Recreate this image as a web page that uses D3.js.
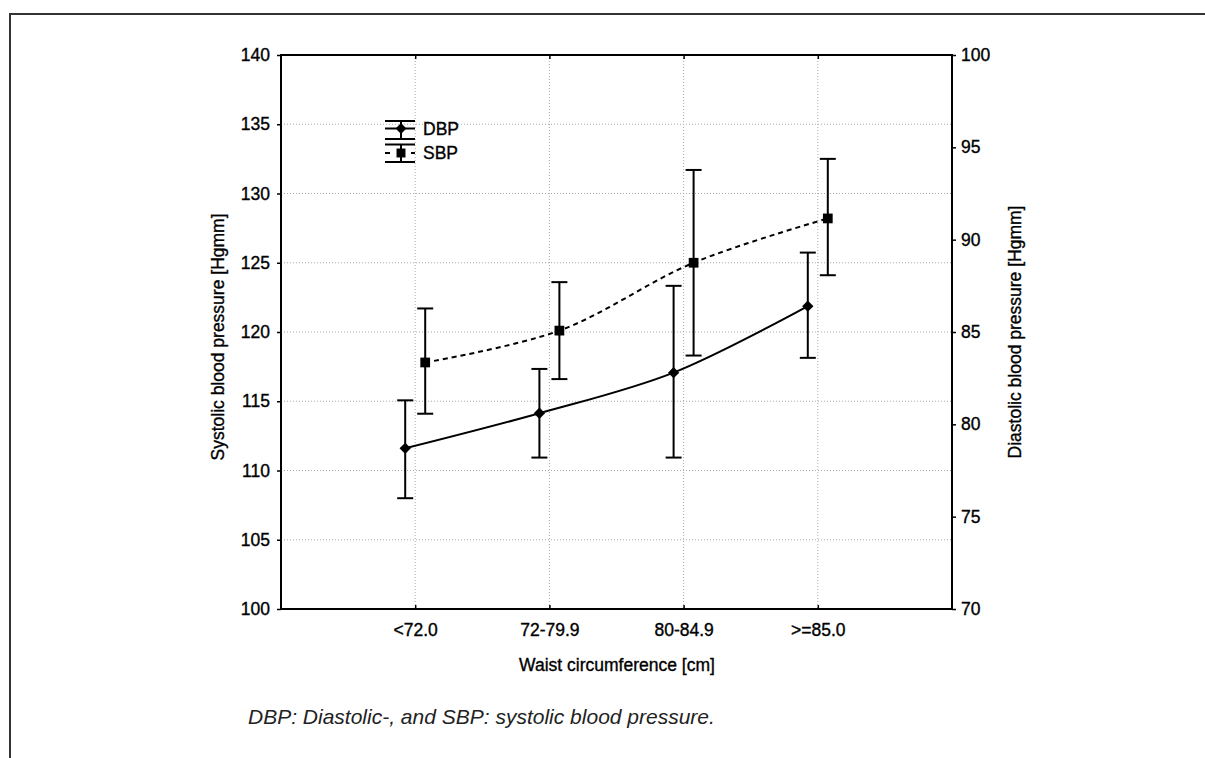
<!DOCTYPE html>
<html><head><meta charset="utf-8">
<script src="https://cdn.jsdelivr.net/npm/d3@7"></script>
<style>body{margin:0;background:#fff}svg{display:block}</style>
</head><body><svg id="c" width="1205" height="758"></svg>
<script>
// ---- data ----
const categories = ["<72.0", "72-79.9", "80-84.9", ">=85.0"];
const sbpMean = [117.8, 120.1, 125.0, 128.2];
const sbpLow  = [114.1, 116.6, 118.3, 124.1];
const sbpHigh = [121.7, 123.6, 131.7, 132.5];
const dbpMean = [78.7, 80.6, 82.8, 86.4];
const dbpLow  = [76.0, 78.2, 78.2, 83.6];
const dbpHigh = [81.3, 83.0, 87.5, 89.3];
const leftTicks = [100, 105, 110, 115, 120, 125, 130, 135, 140];
const rightTicks = [70, 75, 80, 85, 90, 95, 100];
const seriesNames = ["DBP", "SBP"];
const xTitle = "Waist circumference [cm]";
const yLeftTitle = "Systolic blood pressure [Hgmm]";
const yRightTitle = "Diastolic blood pressure [Hgmm]";
const caption = "DBP: Diastolic-, and SBP: systolic blood pressure.";

// ---- layout ----
const svg = d3.select("#c");
const L = 281, R = 952, T = 55, B = 609;
const FONT = "'Liberation Sans', Arial, sans-serif";
const ink = "#000";

const x = d3.scalePoint().domain(categories).range([L, R]).padding(1);
const yL = d3.scaleLinear().domain([100, 140]).range([B, T]);
const yR = d3.scaleLinear().domain([70, 100]).range([B, T]);
const OFF = 10;

// outer frame
svg.append("rect").attr("x", 10).attr("y", 14).attr("width", 1210).attr("height", 800)
  .attr("fill", "none").attr("stroke", "#333").attr("stroke-width", 2);

// grid
const grid = svg.append("g").attr("stroke", "#aaa").attr("stroke-width", 1).attr("stroke-dasharray", "1,2");
grid.selectAll("line.h").data(leftTicks.slice(1, -1)).join("line")
  .attr("x1", L).attr("x2", R).attr("y1", d => yL(d)).attr("y2", d => yL(d));
grid.selectAll("line.v").data(categories).join("line")
  .attr("x1", d => x(d)).attr("x2", d => x(d)).attr("y1", T).attr("y2", B);

function textStyle(sel, size) {
  sel.attr("font-family", FONT).attr("font-size", size).attr("fill", ink)
    .attr("stroke", ink).attr("stroke-width", 0.35);
}

// axes
function styleAxis(g, size) {
  g.select(".domain").remove();
  g.selectAll(".tick line").attr("stroke", ink).attr("stroke-width", 1.5);
  g.selectAll(".tick text").call(textStyle, size);
}
svg.append("g").attr("transform", `translate(${L},0)`)
  .call(d3.axisLeft(yL).tickValues(leftTicks).tickSize(4).tickPadding(7))
  .call(g => styleAxis(g, "17.5px"));
svg.append("g").attr("transform", `translate(${R},0)`)
  .call(d3.axisRight(yR).tickValues(rightTicks).tickSize(4).tickPadding(5))
  .call(g => styleAxis(g, "17.5px"));
svg.append("g").attr("transform", `translate(0,${B})`)
  .call(d3.axisBottom(x).tickSize(-4).tickPadding(15))
  .call(g => styleAxis(g, "17.5px"));
svg.append("g").attr("transform", `translate(0,${T})`)
  .call(d3.axisTop(x).tickSize(-4).tickFormat(""))
  .call(g => styleAxis(g, "17.5px"));

// plot box
svg.append("rect").attr("x", L).attr("y", T).attr("width", R - L).attr("height", B - T)
  .attr("fill", "none").attr("stroke", ink).attr("stroke-width", 2);

// series
const dbp = categories.map((c, i) => ({c, m: dbpMean[i], lo: dbpLow[i], hi: dbpHigh[i]}));
const sbp = categories.map((c, i) => ({c, m: sbpMean[i], lo: sbpLow[i], hi: sbpHigh[i]}));

function drawSeries(data, yS, off, dash, symSize, rot) {
  const g = svg.append("g");
  const line = d3.line().x(d => x(d.c) + off).y(d => yS(d.m)).curve(d3.curveCatmullRom.alpha(0.5));
  g.append("path").datum(data).attr("d", line).attr("fill", "none")
    .attr("stroke", ink).attr("stroke-width", 2).attr("stroke-dasharray", dash);
  const eb = g.selectAll("g.eb").data(data).join("g").attr("stroke", ink).attr("stroke-width", 2);
  eb.append("line").attr("x1", d => x(d.c) + off).attr("x2", d => x(d.c) + off)
    .attr("y1", d => yS(d.hi)).attr("y2", d => yS(d.lo));
  eb.append("line").attr("x1", d => x(d.c) + off - 8).attr("x2", d => x(d.c) + off + 8)
    .attr("y1", d => yS(d.hi)).attr("y2", d => yS(d.hi));
  eb.append("line").attr("x1", d => x(d.c) + off - 8).attr("x2", d => x(d.c) + off + 8)
    .attr("y1", d => yS(d.lo)).attr("y2", d => yS(d.lo));
  g.selectAll("path.sym").data(data).join("path").attr("class", "sym")
    .attr("d", d3.symbol().type(d3.symbolSquare).size(symSize))
    .attr("transform", d => `translate(${x(d.c) + off},${yS(d.m)}) rotate(${rot})`)
    .attr("fill", ink);
}
drawSeries(dbp, yR, -OFF, null, 64, 45);
drawSeries(sbp, yL, OFF, "5,4", 95, 0);

// legend
const lg = svg.append("g").attr("stroke", ink).attr("stroke-width", 2);
function legendItem(cy, top, bot, dashed, symSize, rot, label) {
  const cx = 401;
  lg.append("line").attr("x1", 385).attr("x2", 415).attr("y1", top).attr("y2", top);
  lg.append("line").attr("x1", 385).attr("x2", 415).attr("y1", bot).attr("y2", bot);
  lg.append("line").attr("x1", cx).attr("x2", cx).attr("y1", top).attr("y2", bot);
  if (dashed) {
    lg.append("line").attr("x1", 385).attr("x2", 390).attr("y1", cy).attr("y2", cy);
    lg.append("line").attr("x1", 411).attr("x2", 415).attr("y1", cy).attr("y2", cy);
  } else {
    lg.append("line").attr("x1", 385).attr("x2", 415).attr("y1", cy).attr("y2", cy);
  }
  lg.append("path").attr("d", d3.symbol().type(d3.symbolSquare).size(symSize)())
    .attr("transform", `translate(${cx},${cy}) rotate(${rot})`).attr("fill", ink).attr("stroke", "none");
  svg.append("text").attr("x", 423).attr("y", cy).attr("dy", "0.35em")
    .call(textStyle, "17.5px").text(label);
}
legendItem(128.5, 121, 139, false, 58, 45, seriesNames[0]);
legendItem(153, 144.5, 162, true, 80, 0, seriesNames[1]);

// titles
svg.append("text").attr("x", 617).attr("y", 671).attr("text-anchor", "middle")
  .call(textStyle, "17.5px").text(xTitle);
svg.append("text").attr("transform", "translate(224,337) rotate(-90)").attr("text-anchor", "middle")
  .call(textStyle, "17.5px").text(yLeftTitle);
svg.append("text").attr("transform", "translate(1021,332) rotate(-90)").attr("text-anchor", "middle")
  .call(textStyle, "17.5px").text(yRightTitle);
svg.append("text").attr("x", 248).attr("y", 724)
  .attr("font-family", FONT).attr("font-size", "21px").attr("font-style", "italic").attr("fill", "#222").text(caption);
</script>
</body></html>
